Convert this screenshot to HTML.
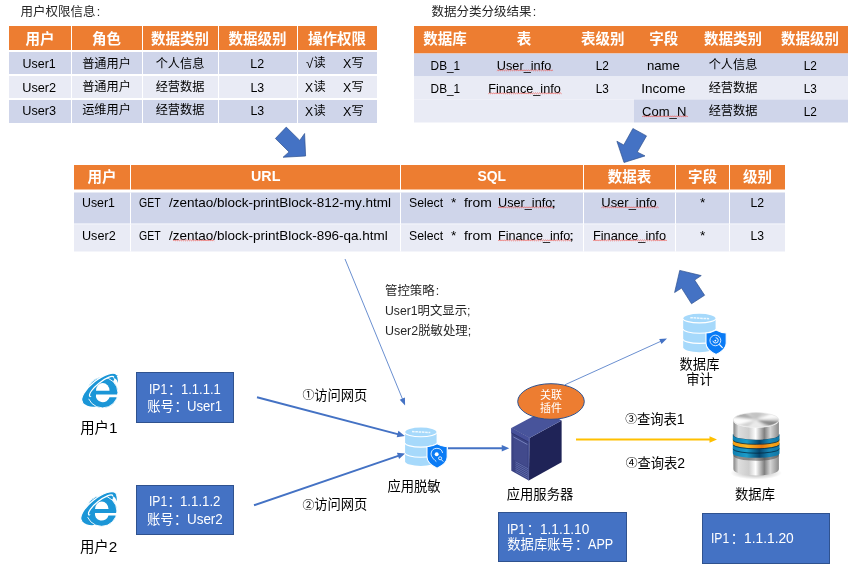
<!DOCTYPE html>
<html lang="zh"><head><meta charset="utf-8"><title>diagram</title><style>
html,body{margin:0;padding:0;background:#fff}
body{width:857px;height:572px;position:relative;overflow:hidden;font-family:"Liberation Sans","Noto Sans CJK SC",sans-serif;color:#000;font-kerning:none}
.cj{display:inline-block;white-space:nowrap;font-family:"Liberation Sans","Noto Sans CJK SC",sans-serif;font-style:normal}
.cjb{font-weight:bold}
.sx{display:inline-block;position:relative;transform-origin:50% 50%;white-space:nowrap}
.ix{display:inline-block;transform-origin:0 50%;white-space:nowrap;vertical-align:baseline}
.ax{position:absolute;display:block;transform-origin:0 50%;white-space:nowrap;line-height:15px}
.ac{position:absolute;display:block;line-height:15px}
.cn{font-style:normal;margin-left:1.2px}
.ttl{position:absolute;font-size:12.5px;line-height:18px;color:#262626;white-space:nowrap}
.tb{position:absolute;border-collapse:separate;border-spacing:0;table-layout:fixed;font-size:12.2px}
.tb th,.tb td{background-clip:padding-box;padding:0;text-align:center;vertical-align:middle;white-space:nowrap;line-height:15px}
.tb td.rel{position:relative;vertical-align:top}
.tb th{background-clip:padding-box;background-color:#ED7D31;color:#fff;font-size:14.5px;font-weight:bold}
.tb .r1 td{background:#CFD5EA}
.tb .r2 td{background:#E9EBF5}
.tb .r2 td.d{background:#CFD5EA}
.t1 th,.t1 td,.t3 th,.t3 td{border-left:1px solid #fff}
.t1 th:first-child,.t1 td:first-child,.t3 th:first-child,.t3 td:first-child{border-left:0}
.t1 th{border-bottom:2px solid #fff}
.t3 th{border-bottom:3px solid #fff}
.t1 td{border-bottom:2px solid #fff}
.t3 td{border-bottom:1px solid #fff}
.t1 tr:last-child td,.t3 tr:last-child td{border-bottom:0}
.t1 th{padding-top:3px}
.t1 .p0 td{padding-top:2px}
.t1 .p1 td{padding-top:1px}
.t1 .p2 td{padding-bottom:2px}
.t2 td{padding-top:1px}
.t2{transform:translateY(-0.5px)}
.t1 th,.t1 td{padding-right:1px}
.t1 th:first-child,.t1 td:first-child{padding-right:0}
.t2 th{padding-bottom:1px}
.t3 td{vertical-align:top}
.t3{transform:translateY(0.5px)}
.t3 td.rel{padding-top:0}
.wv{position:relative;display:inline-block}
.sq{position:absolute;left:0;overflow:visible}
.sq path{fill:none;stroke:#f23a30;stroke-width:0.6}
.pol{position:absolute;font-size:12.4px;line-height:19.3px;color:#262626;white-space:nowrap}
.bx{position:absolute;box-sizing:border-box;background:#4472C4;border:1px solid #2F528F;color:#fff;font-size:13.3px;line-height:16.6px;white-space:nowrap}
.bx.c{text-align:center;padding-right:2px}
.fc{margin-left:1.3px}
.bx.c .fc{margin-left:0.5px;margin-right:-0.6px}
.bx.b3{line-height:15.6px}
.cn2{font-size:0.89em;position:relative;top:-0.6px;margin-left:0.8px}
.lb{position:absolute;width:200px;height:20px;line-height:20px;text-align:center;white-space:nowrap}
#shapes{position:absolute;left:0;top:0}
#pg{position:absolute;left:0;top:0;width:857px;height:572px;will-change:transform;background:#fff}
</style></head>
<body><div id="pg">
<svg id="shapes" width="857" height="572" viewBox="0 0 857 572"><polygon points="286.25,127.1 299.75,140.4 304.6,133.5 305.6,156 283.1,157.25 289,151.9 275.4,138.5" fill="#4472C4" stroke="#2F528F" stroke-width="0.7" stroke-linejoin="miter"/><polygon points="632.9,128.5 646.5,135.9 637.25,152.1 645,155.9 624,162.5 616.9,141.25 623.75,145" fill="#4472C4" stroke="#2F528F" stroke-width="0.7" stroke-linejoin="miter"/><polygon points="679.75,270.4 701.25,275.6 694.6,280 704.6,295.25 691.5,303.75 681.6,288.1 674.6,292.5" fill="#4472C4" stroke="#2F528F" stroke-width="0.7" stroke-linejoin="miter"/><line x1="345" y1="259" x2="402.71" y2="399.57" stroke="#4472C4" stroke-width="0.8"/><polygon points="405.1,405.4 399.74,399.71 404.92,397.58" fill="#4472C4"/><line x1="565" y1="384.75" x2="661.26" y2="341.10" stroke="#4472C4" stroke-width="0.8"/><polygon points="667,338.5 661.51,344.06 659.20,338.96" fill="#4472C4"/><line x1="257" y1="397.25" x2="398.51" y2="434.35" stroke="#4472C4" stroke-width="2"/><polygon points="404.8,436 396.70,437.34 398.39,430.86" fill="#4472C4"/><line x1="254" y1="505.25" x2="398.95" y2="455.61" stroke="#4472C4" stroke-width="2"/><polygon points="405.1,453.5 399.09,459.10 396.92,452.76" fill="#4472C4"/><line x1="448" y1="448.25" x2="502.75" y2="448.25" stroke="#4472C4" stroke-width="2"/><polygon points="509.25,448.25 501.75,451.60 501.75,444.90" fill="#4472C4"/><line x1="576" y1="439.5" x2="710.50" y2="439.50" stroke="#FFC000" stroke-width="2"/><polygon points="717,439.5 709.50,442.85 709.50,436.15" fill="#FFC000"/><g transform="translate(81.4,373.3)"><clipPath id="iec1"><rect x="-30" y="-20" width="60" height="21"/></clipPath><g transform="translate(18.3,15.2) rotate(-38.5)" fill="#1B96D7"><path fill-rule="evenodd" d="M-22.0,0A22.0,15.4 0 0 0 0,15.4L6,15.4L6,0ZM-12.600000000000001,0A15.4,4.6 0 1 0 18.2,0A15.4,4.6 0 1 0 -12.600000000000001,0Z"/></g><g><circle cx="21.2" cy="19.3" r="15.3" fill="#1B96D7" stroke="#fff" stroke-width="0.9"/><path d="M14.6,17.4A6.75,7.6 0 0 1 28.1,17.4Z" fill="#fff"/><path d="M14.6,21.3A6.75,6.1 0 0 0 28.1,23.9L37.5,23.9L37.5,21.3Z" fill="#fff"/></g><g transform="translate(18.3,15.2) rotate(-38.5)" fill="#1B96D7" stroke="#fff" stroke-width="1.25" clip-path="url(#iec1)"><path fill-rule="evenodd" d="M-22.0,0A22.0,8.5 0 0 1 22.0,0L24.0,4L-24.0,4ZM-12.600000000000001,0A15.4,4.6 0 1 0 18.2,0A15.4,4.6 0 1 0 -12.600000000000001,0Z"/></g><path d="M33.6,1.7Q36.9,2.3 36.3,9.6Q35.4,5.6 32.6,4.2Z" fill="#1B96D7"/></g><g transform="translate(80.4,491.7)"><clipPath id="iec2"><rect x="-30" y="-20" width="60" height="21"/></clipPath><g transform="translate(18.3,15.2) rotate(-38.5)" fill="#1B96D7"><path fill-rule="evenodd" d="M-22.0,0A22.0,15.4 0 0 0 0,15.4L6,15.4L6,0ZM-12.600000000000001,0A15.4,4.6 0 1 0 18.2,0A15.4,4.6 0 1 0 -12.600000000000001,0Z"/></g><g><circle cx="21.2" cy="19.3" r="15.3" fill="#1B96D7" stroke="#fff" stroke-width="0.9"/><path d="M14.6,17.4A6.75,7.6 0 0 1 28.1,17.4Z" fill="#fff"/><path d="M14.6,21.3A6.75,6.1 0 0 0 28.1,23.9L37.5,23.9L37.5,21.3Z" fill="#fff"/></g><g transform="translate(18.3,15.2) rotate(-38.5)" fill="#1B96D7" stroke="#fff" stroke-width="1.25" clip-path="url(#iec2)"><path fill-rule="evenodd" d="M-22.0,0A22.0,8.5 0 0 1 22.0,0L24.0,4L-24.0,4ZM-12.600000000000001,0A15.4,4.6 0 1 0 18.2,0A15.4,4.6 0 1 0 -12.600000000000001,0Z"/></g><path d="M33.6,1.7Q36.9,2.3 36.3,9.6Q35.4,5.6 32.6,4.2Z" fill="#1B96D7"/></g><g transform="translate(405.1,427.6)"><path d="M0,4.8A15.75,4.8 0 0 1 31.5,4.8L31.5,33.6A15.75,4.8 0 0 1 0,33.6Z" fill="#A6D9FB"/><path d="M0,4.9A15.75,4.2 0 0 0 31.5,4.9" fill="none" stroke="#fff" stroke-width="1.1"/><path d="M0,15.3A15.75,4.2 0 0 0 31.5,15.3" fill="none" stroke="#fff" stroke-width="1.1"/><path d="M0,25.4A15.75,4.2 0 0 0 31.5,25.4" fill="none" stroke="#fff" stroke-width="1.1"/><path d="M6.9,3.9L25.2,5" stroke="#fff" stroke-width="1.5" stroke-opacity="0.8" stroke-dasharray="2.6 0.7"/><g transform="translate(21.9,16.2) scale(1.04,1.02)"><path d="M9.7,0C7,1.6 3.5,2.6 0,3L0,13C0,18 4.5,21.5 9.7,24C14.9,21.5 19.4,18 19.4,13L19.4,3C15.9,2.6 12.4,1.6 9.7,0Z" fill="#0A7BF5" stroke="#fff" stroke-width="1"/><path d="M9,17.5C5,14 3.6,11.5 4,9A5.6,5.6 0 0 1 15,9" fill="none" stroke="#fff" stroke-width="0.8"/><circle cx="9.3" cy="10.2" r="1.9" fill="#fff"/><circle cx="12.6" cy="14.2" r="1.5" fill="none" stroke="#fff" stroke-width="0.8"/><path d="M13.7,15.4L15.6,17.4" stroke="#fff" stroke-width="0.9"/></g></g><g transform="translate(683.2,313.75)"><path d="M0,4.8A16.2,4.8 0 0 1 32.4,4.8L32.4,33.6A16.2,4.8 0 0 1 0,33.6Z" fill="#A6D9FB"/><path d="M0,4.9A16.2,4.2 0 0 0 32.4,4.9" fill="none" stroke="#fff" stroke-width="1.1"/><path d="M0,15.3A16.2,4.2 0 0 0 32.4,15.3" fill="none" stroke="#fff" stroke-width="1.1"/><path d="M0,25.4A16.2,4.2 0 0 0 32.4,25.4" fill="none" stroke="#fff" stroke-width="1.1"/><path d="M7.1,3.9L25.9,5" stroke="#fff" stroke-width="1.5" stroke-opacity="0.8" stroke-dasharray="2.6 0.7"/><g transform="translate(22.799999999999997,16.2) scale(1.04,1.02)"><path d="M9.7,0C7,1.6 3.5,2.6 0,3L0,13C0,18 4.5,21.5 9.7,24C14.9,21.5 19.4,18 19.4,13L19.4,3C15.9,2.6 12.4,1.6 9.7,0Z" fill="#0A7BF5" stroke="#fff" stroke-width="1"/><circle cx="9" cy="10.3" r="5.2" fill="none" stroke="#fff" stroke-width="0.8"/><path d="M12.8,14.2L16,17.6" stroke="#fff" stroke-width="1.1"/><path d="M6.6,10.6A2.6,2.6 0 1 0 9.3,7.6" fill="none" stroke="#fff" stroke-width="0.9"/><circle cx="9" cy="10.4" r="0.9" fill="#fff"/></g></g><polygon points="529.5,437.9 561.6,420.4 561.6,462.3 528.8,480.5" fill="#1F2357"/><polygon points="511.3,428.1 544.2,410.6 561.6,420.4 529.5,437.9" fill="#48549B"/><polygon points="511.3,428.1 529.5,437.9 528.8,480.5 511.3,470.7" fill="#3A4282"/><polygon points="511.3,428.1 529.5,437.9 529.5,442.3 511.3,432.5" fill="#46509A"/><path d="M511.3,432.8L529.4,442.6" stroke="#2C3270" stroke-width="0.8"/><polygon points="513.4,436.6 527.4,444.2 527.4,467 513.4,459.4" fill="#424A8C"/><path d="M513.4,436.9L527.4,444.5" stroke="#7580BC" stroke-width="1"/><path d="M515.5,461.8L528,468.7" stroke="#6773B2" stroke-width="0.8"/><path d="M515.5,463.7L528,470.6" stroke="#6773B2" stroke-width="0.8"/><path d="M515.5,465.6L528,472.5" stroke="#6773B2" stroke-width="0.8"/><path d="M515.5,467.5L528,474.4" stroke="#6773B2" stroke-width="0.8"/><path d="M515.5,469.4L528,476.3" stroke="#6773B2" stroke-width="0.8"/><path d="M515.5,471.3L528,478.2" stroke="#6773B2" stroke-width="0.8"/><path d="M528.9,437.9L528.6,480.4" stroke="#5A66A8" stroke-width="0.7"/><ellipse cx="551" cy="401.5" rx="33.3" ry="17.8" fill="#ED7D31" stroke="#2F528F" stroke-width="1"/><defs><linearGradient id="mg" x1="0" x2="1" y1="0" y2="0"><stop offset="0" stop-color="#858585"/><stop offset="0.11" stop-color="#dedede"/><stop offset="0.34" stop-color="#cdcdcd"/><stop offset="0.49" stop-color="#ffffff"/><stop offset="0.68" stop-color="#808080"/><stop offset="0.81" stop-color="#d6d6d6"/><stop offset="1" stop-color="#8a8a8a"/></linearGradient><linearGradient id="mt" x1="0" x2="1" y1="0" y2="0.6"><stop offset="0" stop-color="#bdbdbd"/><stop offset="0.3" stop-color="#e2e2e2"/><stop offset="0.5" stop-color="#fbfbfb"/><stop offset="0.72" stop-color="#d0d0d0"/><stop offset="1" stop-color="#c4c4c4"/></linearGradient><linearGradient id="bl" x1="0" x2="1" y1="0" y2="0"><stop offset="0" stop-color="#0f7fb0"/><stop offset="0.3" stop-color="#1c9cc9"/><stop offset="0.57" stop-color="#06466e"/><stop offset="0.78" stop-color="#1787b7"/><stop offset="1" stop-color="#0f76a5"/></linearGradient><linearGradient id="og" x1="0" x2="1" y1="0" y2="0"><stop offset="0" stop-color="#f39a10"/><stop offset="0.3" stop-color="#fdb827"/><stop offset="0.62" stop-color="#e8790e"/><stop offset="0.82" stop-color="#f7a61a"/><stop offset="1" stop-color="#ef9510"/></linearGradient><radialGradient id="sh"><stop offset="0" stop-color="#000" stop-opacity="0.35"/><stop offset="1" stop-color="#000" stop-opacity="0"/></radialGradient></defs><ellipse cx="756.15" cy="473" rx="25.75" ry="6.5" fill="url(#sh)"/><path d="M733.4,454L778.9,454L778.9,469.3A22.75,6.3 0 0 1 733.4,469.3Z" fill="url(#mg)"/><path d="M733.4,454L733.4,455.5A22.75,5.2 0 0 0 778.9,455.5L778.9,454Z" fill="#4a4a4a" fill-opacity="0.55"/><path d="M732.8,448.1L779.5,448.1L779.5,453.3Q779.5,454.1 778.5,454.70000000000005A23.35,4.4 0 0 1 733.8,454.70000000000005Q732.8,454.1 732.8,453.3Z" fill="url(#bl)"/><path d="M732.8,443.1L779.5,443.1L779.5,448.3Q779.5,449.1 778.5,449.70000000000005A23.35,4.4 0 0 1 733.8,449.70000000000005Q732.8,449.1 732.8,448.3Z" fill="url(#bl)"/><path d="M732.8,438.7L779.5,438.7L779.5,443.9Q779.5,444.7 778.5,445.3A23.35,4.4 0 0 1 733.8,445.3Q732.8,444.7 732.8,443.9Z" fill="url(#og)"/><path d="M732.8,434.3L779.5,434.3L779.5,439.5Q779.5,440.3 778.5,440.90000000000003A23.35,4.4 0 0 1 733.8,440.90000000000003Q732.8,440.3 732.8,439.5Z" fill="url(#bl)"/><path d="M733.0999999999999,449.40000000000003A23.35,4.5 0 0 0 779.2,449.40000000000003" fill="none" stroke="#03263b" stroke-opacity="0.75" stroke-width="1"/><path d="M733.0999999999999,445.0A23.35,4.5 0 0 0 779.2,445.0" fill="none" stroke="#03263b" stroke-opacity="0.75" stroke-width="1"/><path d="M733.0999999999999,440.6A23.35,4.5 0 0 0 779.2,440.6" fill="none" stroke="#03263b" stroke-opacity="0.75" stroke-width="1"/><path d="M733.0999999999999,435.5A23.35,4.5 0 0 0 779.2,435.5" fill="none" stroke="#03263b" stroke-opacity="0.75" stroke-width="1"/><path d="M733.4,419.7L778.9,419.7L778.9,434.9A22.75,4.8 0 0 1 733.4,434.9Z" fill="url(#mg)"/><clipPath id="dtc"><ellipse cx="756.15" cy="419.8" rx="22.75" ry="7.2"/></clipPath><filter id="dbl" x="-20%" y="-50%" width="140%" height="200%"><feGaussianBlur stdDeviation="1.1"/></filter><ellipse cx="756.15" cy="420.7" rx="22.75" ry="7.2" fill="#f2f2f2"/><g clip-path="url(#dtc)"><rect x="733.4" y="411.8" width="45.5" height="16" fill="#d2d2d2"/><g filter="url(#dbl)"><polygon points="756.1,419.8 795.8,422.6 792.4,428.4 785.9,433.4" fill="#7e7e7e" fill-opacity="0.85"/><polygon points="756.1,419.8 717.7,414.2 722.2,409.1 729.4,404.7" fill="#9c9c9c" fill-opacity="0.7"/><polygon points="756.1,419.8 721.5,429.9 716.6,423.0 717.0,415.6" fill="#ffffff" fill-opacity="0.95"/><polygon points="756.1,419.8 786.8,406.8 792.7,411.6 795.8,417.0" fill="#ffffff" fill-opacity="0.9"/><polygon points="756.1,419.8 776.1,437.3 756.1,440.1 736.1,437.3" fill="#f0f0f0" fill-opacity="0.8"/><polygon points="756.1,419.8 739.2,401.4 756.1,399.5 773.1,401.4" fill="#bdbdbd" fill-opacity="0.7"/></g></g><ellipse cx="756.15" cy="419.8" rx="22.75" ry="7.2" fill="none" stroke="#e9e9e9" stroke-width="0.6"/></svg>
<div class="ttl" style="left:20.5px;top:3px"><span class="cj">用户权限信息</span><i class="cn">:</i></div>
<div class="ttl" style="left:431.5px;top:3px"><span class="cj">数据分类分级结果</span><i class="cn">:</i></div>
<table class="tb t1" style="left:9px;top:26px"><colgroup><col style="width:62px"><col style="width:71px"><col style="width:76px"><col style="width:79px"><col style="width:80px"></colgroup><tr class="h" style="height:26px"><th><span class="cj cjb">用户</span></th><th><span class="cj cjb">角色</span></th><th><span class="cj cjb">数据类别</span></th><th><span class="cj cjb">数据级别</span></th><th><span class="cj cjb">操作权限</span></th></tr><tr class="r1 p0" style="height:24px"><td><span class="sx" style="font-size:13.1px;transform:translate(-1.3px,0px) scaleX(0.9491)">User1</span></td><td><span class="cj">普通用户</span></td><td><span class="cj">个人信息</span></td><td><span class="sx" style="font-size:13.1px;transform:scaleX(0.9503)">L2</span></td><td class="rel"><span class="ax" style="left:7.87px;top:3.5px;font-size:13.1px;transform:scaleX(1.0218)">√</span><span class="ac" style="left:15.600000000000023px;top:3.5px"><span class="cj">读</span></span><span class="ax" style="left:45.12px;top:3.5px;font-size:13.1px;transform:scaleX(0.9549)">X</span><span class="ac" style="left:53.39999999999998px;top:3.5px"><span class="cj">写</span></span></td></tr><tr class="r2 p1" style="height:24px"><td><span class="sx" style="font-size:13.1px;transform:translate(-1.3px,0px) scaleX(0.9707)">User2</span></td><td><span class="cj">普通用户</span></td><td><span class="cj">经营数据</span></td><td><span class="sx" style="font-size:13.1px;transform:scaleX(0.9442)">L3</span></td><td class="rel"><span class="ax" style="left:7.33px;top:3.5px;font-size:13.1px;transform:scaleX(0.9304)">X</span><span class="ac" style="left:15.600000000000023px;top:3.5px"><span class="cj">读</span></span><span class="ax" style="left:45.12px;top:3.5px;font-size:13.1px;transform:scaleX(0.9549)">X</span><span class="ac" style="left:53.39999999999998px;top:3.5px"><span class="cj">写</span></span></td></tr><tr class="r1 p2" style="height:23px"><td><span class="sx" style="font-size:13.1px;transform:translate(-1.3px,0px) scaleX(0.9683)">User3</span></td><td><span class="cj">运维用户</span></td><td><span class="cj">经营数据</span></td><td><span class="sx" style="font-size:13.1px;transform:scaleX(0.9442)">L3</span></td><td class="rel"><span class="ax" style="left:7.33px;top:3.5px;font-size:13.1px;transform:scaleX(0.9304)">X</span><span class="ac" style="left:15.600000000000023px;top:3.5px"><span class="cj">读</span></span><span class="ax" style="left:45.12px;top:3.5px;font-size:13.1px;transform:scaleX(0.9549)">X</span><span class="ac" style="left:53.39999999999998px;top:3.5px"><span class="cj">写</span></span></td></tr></table>
<table class="tb t2" style="left:414px;top:26px"><colgroup><col style="width:62px"><col style="width:96px"><col style="width:61.5px"><col style="width:60.5px"><col style="width:78px"><col style="width:76px"></colgroup><tr class="h" style="height:27.5px"><th><span class="cj cjb">数据库</span></th><th><span class="cj cjb">表</span></th><th><span class="cj cjb">表级别</span></th><th><span class="cj cjb">字段</span></th><th><span class="cj cjb">数据类别</span></th><th><span class="cj cjb">数据级别</span></th></tr><tr class="r1" style="height:23px"><td><span class="sx" style="font-size:13.1px;transform:scaleX(0.9016)">DB_1</span></td><td><span class="sx" style="font-size:13.1px;transform:scaleX(0.9724)">User_info<svg class="sq" width="56.1" height="2.4" viewBox="0 0 56.1 2.4" style="top:12.1px"><path d="M0,1.3l1,-0.9l1,0.9l1,-0.9l1,0.9l1,-0.9l1,0.9l1,-0.9l1,0.9l1,-0.9l1,0.9l1,-0.9l1,0.9l1,-0.9l1,0.9l1,-0.9l1,0.9l1,-0.9l1,0.9l1,-0.9l1,0.9l1,-0.9l1,0.9l1,-0.9l1,0.9l1,-0.9l1,0.9l1,-0.9l1,0.9l1,-0.9l1,0.9l1,-0.9l1,0.9l1,-0.9l1,0.9l1,-0.9l1,0.9l1,-0.9l1,0.9l1,-0.9l1,0.9l1,-0.9l1,0.9l1,-0.9l1,0.9l1,-0.9l1,0.9l1,-0.9l1,0.9l1,-0.9l1,0.9l1,-0.9l1,0.9l1,-0.9l1,0.9l1,-0.9l1,0.9l1,-0.9l1,0.9"/></svg></span></td><td><span class="sx" style="font-size:13.1px;transform:scaleX(0.9036)">L2</span></td><td><span class="sx" style="font-size:13.1px;transform:scaleX(1.0058)">name</span></td><td><span class="cj">个人信息</span></td><td><span class="sx" style="font-size:13.1px;transform:scaleX(0.9036)">L2</span></td></tr><tr class="r2" style="height:23.5px"><td><span class="sx" style="font-size:13.1px;transform:scaleX(0.9016)">DB_1</span></td><td><span class="sx" style="font-size:13.1px;transform:scaleX(0.9675)">Finance_info<svg class="sq" width="75.0" height="2.4" viewBox="0 0 75.0 2.4" style="top:12.1px"><path d="M0,1.3l1,-0.9l1,0.9l1,-0.9l1,0.9l1,-0.9l1,0.9l1,-0.9l1,0.9l1,-0.9l1,0.9l1,-0.9l1,0.9l1,-0.9l1,0.9l1,-0.9l1,0.9l1,-0.9l1,0.9l1,-0.9l1,0.9l1,-0.9l1,0.9l1,-0.9l1,0.9l1,-0.9l1,0.9l1,-0.9l1,0.9l1,-0.9l1,0.9l1,-0.9l1,0.9l1,-0.9l1,0.9l1,-0.9l1,0.9l1,-0.9l1,0.9l1,-0.9l1,0.9l1,-0.9l1,0.9l1,-0.9l1,0.9l1,-0.9l1,0.9l1,-0.9l1,0.9l1,-0.9l1,0.9l1,-0.9l1,0.9l1,-0.9l1,0.9l1,-0.9l1,0.9l1,-0.9l1,0.9l1,-0.9l1,0.9l1,-0.9l1,0.9l1,-0.9l1,0.9l1,-0.9l1,0.9l1,-0.9l1,0.9l1,-0.9l1,0.9l1,-0.9l1,0.9l1,-0.9l1,0.9l1,-0.9l1,0.9"/></svg></span></td><td><span class="sx" style="font-size:13.1px;transform:scaleX(0.8978)">L3</span></td><td><span class="sx" style="font-size:13.1px;transform:scaleX(1.0324)">Income</span></td><td><span class="cj">经营数据</span></td><td><span class="sx" style="font-size:13.1px;transform:scaleX(0.8978)">L3</span></td></tr><tr class="r2" style="height:22.5px"><td></td><td></td><td></td><td class="d"><span class="sx" style="font-size:13.1px;transform:scaleX(0.9960)">Com_N<svg class="sq" width="44.4" height="2.4" viewBox="0 0 44.4 2.4" style="top:12.1px"><path d="M0,1.3l1,-0.9l1,0.9l1,-0.9l1,0.9l1,-0.9l1,0.9l1,-0.9l1,0.9l1,-0.9l1,0.9l1,-0.9l1,0.9l1,-0.9l1,0.9l1,-0.9l1,0.9l1,-0.9l1,0.9l1,-0.9l1,0.9l1,-0.9l1,0.9l1,-0.9l1,0.9l1,-0.9l1,0.9l1,-0.9l1,0.9l1,-0.9l1,0.9l1,-0.9l1,0.9l1,-0.9l1,0.9l1,-0.9l1,0.9l1,-0.9l1,0.9l1,-0.9l1,0.9l1,-0.9l1,0.9l1,-0.9l1,0.9l1,-0.9l1,0.9"/></svg></span></td><td class="d"><span class="cj">经营数据</span></td><td class="d"><span class="sx" style="font-size:13.1px;transform:scaleX(0.9036)">L2</span></td></tr></table>
<table class="tb t3" style="left:74px;top:164px"><colgroup><col style="width:56px"><col style="width:270px"><col style="width:183px"><col style="width:92px"><col style="width:54px"><col style="width:56px"></colgroup><tr class="h" style="height:28px"><th><span class="cj cjb">用户</span></th><th><span class="sx" style="font-size:15.3px;transform:translate(0px,-1.5px) scaleX(0.9350)">URL</span></th><th><span class="sx" style="font-size:15.3px;transform:translate(0px,-1.5px) scaleX(0.9070)">SQL</span></th><th><span class="cj cjb">数据表</span></th><th><span class="cj cjb">字段</span></th><th><span class="cj cjb">级别</span></th></tr><tr class="r1" style="height:32px"><td class="rel"><span class="ax" style="left:7.55px;top:2px;font-size:13.1px;transform:scaleX(0.9431)">User1</span></td><td class="rel"><span class="ax" style="left:8.27px;top:2px;font-size:13.1px;transform:scaleX(0.8009)">GET</span><span class="ax" style="left:38.20px;top:2px;font-size:13.1px;transform:scaleX(1.0311)">/zentao/block-printBlock-812-my.html</span></td><td class="rel"><span class="ax" style="left:8.24px;top:2px;font-size:13.1px;transform:scaleX(0.9379)">Select</span><span class="ax" style="left:50.28px;top:2px;font-size:13.1px;transform:scaleX(1.0465)">*</span><span class="ax" style="left:62.80px;top:2px;font-size:13.1px;transform:scaleX(1.0616)">from</span><span class="ax" style="left:96.92px;top:2px;font-size:13.1px;transform:scaleX(0.9687)">User_info<svg class="sq" width="56.1" height="2.4" viewBox="0 0 56.1 2.4" style="top:12.1px"><path d="M0,1.3l1,-0.9l1,0.9l1,-0.9l1,0.9l1,-0.9l1,0.9l1,-0.9l1,0.9l1,-0.9l1,0.9l1,-0.9l1,0.9l1,-0.9l1,0.9l1,-0.9l1,0.9l1,-0.9l1,0.9l1,-0.9l1,0.9l1,-0.9l1,0.9l1,-0.9l1,0.9l1,-0.9l1,0.9l1,-0.9l1,0.9l1,-0.9l1,0.9l1,-0.9l1,0.9l1,-0.9l1,0.9l1,-0.9l1,0.9l1,-0.9l1,0.9l1,-0.9l1,0.9l1,-0.9l1,0.9l1,-0.9l1,0.9l1,-0.9l1,0.9l1,-0.9l1,0.9l1,-0.9l1,0.9l1,-0.9l1,0.9l1,-0.9l1,0.9l1,-0.9l1,0.9l1,-0.9l1,0.9"/></svg></span><span class="ax" style="left:150.35px;top:2px;font-size:13.1px;transform:scaleX(1.4000)">;</span></td><td style="padding-top:2px"><span class="sx" style="font-size:13.1px;transform:scaleX(0.9907)">User_info<svg class="sq" width="56.1" height="2.4" viewBox="0 0 56.1 2.4" style="top:12.1px"><path d="M0,1.3l1,-0.9l1,0.9l1,-0.9l1,0.9l1,-0.9l1,0.9l1,-0.9l1,0.9l1,-0.9l1,0.9l1,-0.9l1,0.9l1,-0.9l1,0.9l1,-0.9l1,0.9l1,-0.9l1,0.9l1,-0.9l1,0.9l1,-0.9l1,0.9l1,-0.9l1,0.9l1,-0.9l1,0.9l1,-0.9l1,0.9l1,-0.9l1,0.9l1,-0.9l1,0.9l1,-0.9l1,0.9l1,-0.9l1,0.9l1,-0.9l1,0.9l1,-0.9l1,0.9l1,-0.9l1,0.9l1,-0.9l1,0.9l1,-0.9l1,0.9l1,-0.9l1,0.9l1,-0.9l1,0.9l1,-0.9l1,0.9l1,-0.9l1,0.9l1,-0.9l1,0.9l1,-0.9l1,0.9"/></svg></span></td><td style="padding-top:2px"><span class="sx" style="font-size:13.1px;transform:scaleX(1.0465)">*</span></td><td style="padding-top:2px"><span class="sx" style="font-size:13.1px;transform:scaleX(0.9347)">L2</span></td></tr><tr class="r2" style="height:27px"><td class="rel"><span class="ax" style="left:7.53px;top:3px;font-size:13.1px;transform:scaleX(0.9647)">User2</span></td><td class="rel"><span class="ax" style="left:8.27px;top:3px;font-size:13.1px;transform:scaleX(0.8009)">GET</span><span class="ax" style="left:38.20px;top:3px;font-size:13.1px;transform:scaleX(1.0296)">/<span class="wv">zentao<svg class="sq" width="39.3" height="2.4" viewBox="0 0 39.3 2.4" style="top:12.1px"><path d="M0,1.3l1,-0.9l1,0.9l1,-0.9l1,0.9l1,-0.9l1,0.9l1,-0.9l1,0.9l1,-0.9l1,0.9l1,-0.9l1,0.9l1,-0.9l1,0.9l1,-0.9l1,0.9l1,-0.9l1,0.9l1,-0.9l1,0.9l1,-0.9l1,0.9l1,-0.9l1,0.9l1,-0.9l1,0.9l1,-0.9l1,0.9l1,-0.9l1,0.9l1,-0.9l1,0.9l1,-0.9l1,0.9l1,-0.9l1,0.9l1,-0.9l1,0.9l1,-0.9l1,0.9"/></svg></span>/block-printBlock-896-qa.html</span></td><td class="rel"><span class="ax" style="left:8.24px;top:3px;font-size:13.1px;transform:scaleX(0.9379)">Select</span><span class="ax" style="left:50.28px;top:3px;font-size:13.1px;transform:scaleX(1.0465)">*</span><span class="ax" style="left:62.80px;top:3px;font-size:13.1px;transform:scaleX(1.0616)">from</span><span class="ax" style="left:96.86px;top:3px;font-size:13.1px;transform:scaleX(0.9648)">Finance_info<svg class="sq" width="75.0" height="2.4" viewBox="0 0 75.0 2.4" style="top:12.1px"><path d="M0,1.3l1,-0.9l1,0.9l1,-0.9l1,0.9l1,-0.9l1,0.9l1,-0.9l1,0.9l1,-0.9l1,0.9l1,-0.9l1,0.9l1,-0.9l1,0.9l1,-0.9l1,0.9l1,-0.9l1,0.9l1,-0.9l1,0.9l1,-0.9l1,0.9l1,-0.9l1,0.9l1,-0.9l1,0.9l1,-0.9l1,0.9l1,-0.9l1,0.9l1,-0.9l1,0.9l1,-0.9l1,0.9l1,-0.9l1,0.9l1,-0.9l1,0.9l1,-0.9l1,0.9l1,-0.9l1,0.9l1,-0.9l1,0.9l1,-0.9l1,0.9l1,-0.9l1,0.9l1,-0.9l1,0.9l1,-0.9l1,0.9l1,-0.9l1,0.9l1,-0.9l1,0.9l1,-0.9l1,0.9l1,-0.9l1,0.9l1,-0.9l1,0.9l1,-0.9l1,0.9l1,-0.9l1,0.9l1,-0.9l1,0.9l1,-0.9l1,0.9l1,-0.9l1,0.9l1,-0.9l1,0.9l1,-0.9l1,0.9"/></svg></span><span class="ax" style="left:168.35px;top:3px;font-size:13.1px;transform:scaleX(1.4000)">;</span></td><td style="padding-top:3px"><span class="sx" style="font-size:13.1px;transform:scaleX(0.9743)">Finance_info<svg class="sq" width="75.0" height="2.4" viewBox="0 0 75.0 2.4" style="top:12.1px"><path d="M0,1.3l1,-0.9l1,0.9l1,-0.9l1,0.9l1,-0.9l1,0.9l1,-0.9l1,0.9l1,-0.9l1,0.9l1,-0.9l1,0.9l1,-0.9l1,0.9l1,-0.9l1,0.9l1,-0.9l1,0.9l1,-0.9l1,0.9l1,-0.9l1,0.9l1,-0.9l1,0.9l1,-0.9l1,0.9l1,-0.9l1,0.9l1,-0.9l1,0.9l1,-0.9l1,0.9l1,-0.9l1,0.9l1,-0.9l1,0.9l1,-0.9l1,0.9l1,-0.9l1,0.9l1,-0.9l1,0.9l1,-0.9l1,0.9l1,-0.9l1,0.9l1,-0.9l1,0.9l1,-0.9l1,0.9l1,-0.9l1,0.9l1,-0.9l1,0.9l1,-0.9l1,0.9l1,-0.9l1,0.9l1,-0.9l1,0.9l1,-0.9l1,0.9l1,-0.9l1,0.9l1,-0.9l1,0.9l1,-0.9l1,0.9l1,-0.9l1,0.9l1,-0.9l1,0.9l1,-0.9l1,0.9l1,-0.9l1,0.9"/></svg></span></td><td style="padding-top:3px"><span class="sx" style="font-size:13.1px;transform:scaleX(1.0465)">*</span></td><td style="padding-top:3px"><span class="sx" style="font-size:13.1px;transform:scaleX(0.9287)">L3</span></td></tr></table>
<div class="pol" style="left:385px;top:281.5px"><span class="cj">管控策略</span><i class="cn">:</i><br><span class="ix" style="font-size:12.9px;width:32.54px;transform:scaleX(0.9455)">User1</span><span class="cj">明文显示</span>;<br><span class="ix" style="font-size:12.9px;width:33.19px;transform:scaleX(0.9644)">User2</span><span class="cj">脱敏处理</span>;</div>
<div class="bx c" style="left:136px;top:372px;width:97.5px;height:50.5px;padding:7.5px 0 0 0px"><span class="ix" style="font-size:14.0px;width:18.21px;transform:scaleX(0.8667)">IP1</span><span class="fc"><span class="cj">：</span></span><span class="ix" style="font-size:14.0px;width:39.72px;transform:scaleX(0.9278)">1.1.1.1</span><br><span class="cj">账号</span><span class="fc"><span class="cj">：</span></span><span class="ix" style="font-size:14.0px;width:35.06px;transform:scaleX(0.9387)">User1</span></div>
<div class="bx c" style="left:136px;top:484.5px;width:97.5px;height:50.5px;padding:7.5px 0 0 0px"><span class="ix" style="font-size:14.0px;width:18.21px;transform:scaleX(0.8667)">IP1</span><span class="fc"><span class="cj">：</span></span><span class="ix" style="font-size:14.0px;width:40.47px;transform:scaleX(0.9454)">1.1.1.2</span><br><span class="cj">账号</span><span class="fc"><span class="cj">：</span></span><span class="ix" style="font-size:14.0px;width:35.81px;transform:scaleX(0.9589)">User2</span></div>
<div class="bx b3" style="left:498px;top:512px;width:128.5px;height:50.200000000000045px;padding:8.7px 0 0 8.3px"><span class="ix" style="font-size:14.0px;width:18.21px;transform:scaleX(0.8667)">IP1</span><span class="fc"><span class="cj">：</span></span><span class="ix" style="font-size:14.0px;width:49.27px;transform:scaleX(0.9737)">1.1.1.10</span><br><span class="cj">数据库账号</span><span class="fc"><span class="cj">：</span></span><span class="ix" style="font-size:14.0px;width:25.19px;transform:scaleX(0.8991)">APP</span></div>
<div class="bx " style="left:702px;top:513px;width:128px;height:50.5px;padding:16px 0 0 8.3px"><span class="ix" style="font-size:14.0px;width:18.21px;transform:scaleX(0.8667)">IP1</span><span class="fc"><span class="cj">：</span></span><span class="ix" style="font-size:14.0px;width:49.79px;transform:scaleX(0.9839)">1.1.1.20</span></div>
<div class="lb" style="left:-1.2000000000000028px;top:418px;font-size:14.4px"><span class="cj">用户</span><span style="font-size:15.3px">1</span></div>
<div class="lb" style="left:-1.4000000000000057px;top:537px;font-size:14.4px"><span class="cj">用户</span><span style="font-size:15.3px">2</span></div>
<div class="lb" style="left:234.5px;top:386px;font-size:13.3px"><span class="cn2"><span class="cj">①</span></span><span class="cj">访问网页</span></div>
<div class="lb" style="left:234.5px;top:495.25px;font-size:13.3px"><span class="cn2"><span class="cj">②</span></span><span class="cj">访问网页</span></div>
<div class="lb" style="left:314px;top:477px;font-size:13.3px"><span class="cj">应用脱敏</span></div>
<div class="lb" style="left:440px;top:484.5px;font-size:13.3px"><span class="cj">应用服务器</span></div>
<div class="lb" style="left:655px;top:484.5px;font-size:13.3px"><span class="cj">数据库</span></div>
<div class="lb" style="left:599.5px;top:354.75px;font-size:13.3px"><span class="cj">数据库</span></div>
<div class="lb" style="left:599.5px;top:369.75px;font-size:13.3px"><span class="cj">审计</span></div>
<div class="lb" style="left:554.5px;top:409px;font-size:13.3px"><span class="cn2"><span class="cj">③</span></span><span class="cj">查询表</span><span style="font-size:14.0px">1</span></div>
<div class="lb" style="left:555px;top:452.75px;font-size:13.3px"><span class="cn2"><span class="cj">④</span></span><span class="cj">查询表</span><span style="font-size:14.0px">2</span></div>
<div class="lb" style="left:451px;top:384.9px;font-size:11px;color:#fff"><span class="cj">关联</span></div>
<div class="lb" style="left:451px;top:397.7px;font-size:11px;color:#fff"><span class="cj">插件</span></div>
</div></body></html>
